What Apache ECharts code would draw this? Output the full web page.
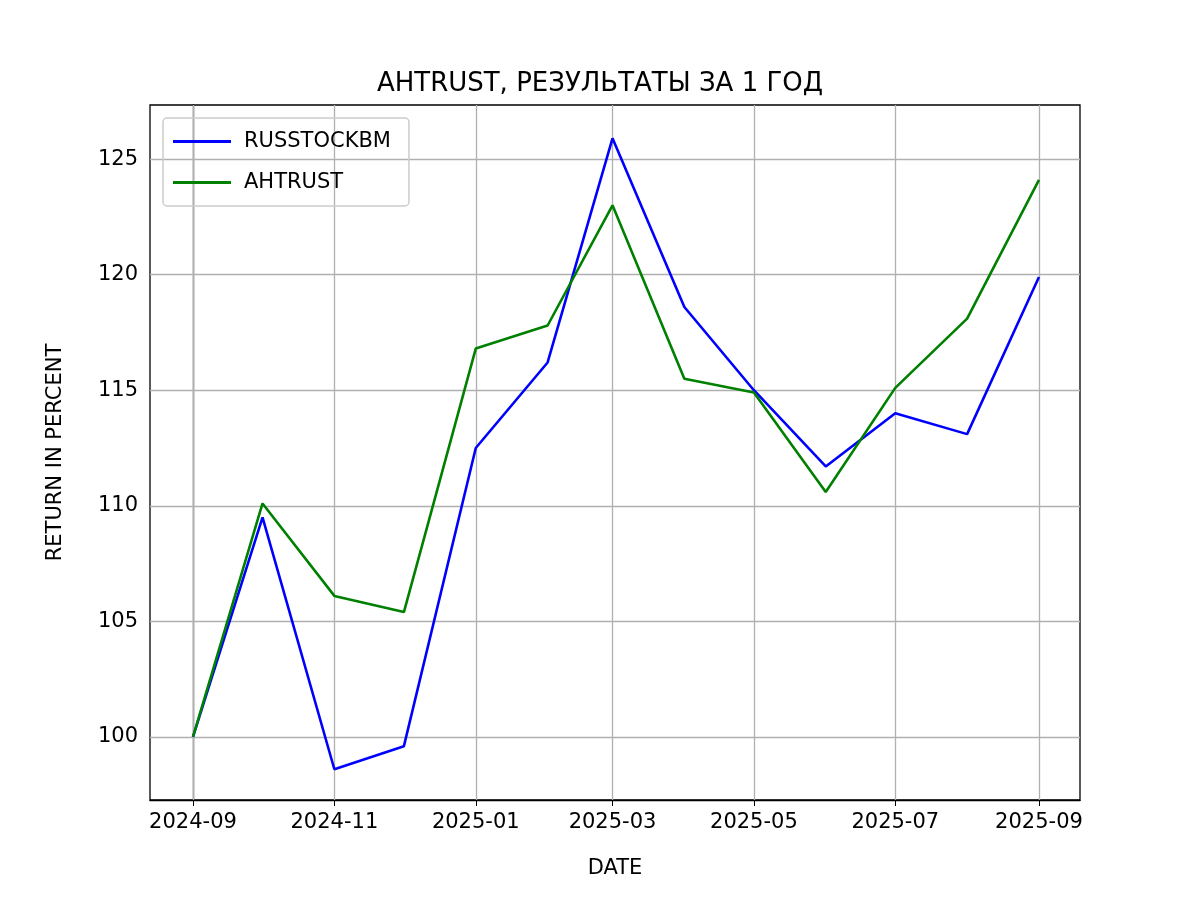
<!DOCTYPE html>
<html>
<head>
<meta charset="utf-8">
<script src="https://cdn.jsdelivr.net/npm/echarts@6/dist/echarts.min.js"></script>
<style>html,body{margin:0;padding:0;background:#fff}#container{width:1200px;height:900px}</style>
</head>
<body>
<div id="container"></div>
<script>
var months = ['2024-09','2024-10','2024-11','2024-12','2025-01','2025-02','2025-03','2025-04','2025-05','2025-06','2025-07','2025-08','2025-09'];
var russtock = [100, 109.5, 98.6, 99.6, 112.5, 116.2, 125.9, 118.6, 115.0, 111.7, 114.0, 113.1, 119.9];
var ahtrust = [100, 110.1, 106.1, 105.4, 116.8, 117.8, 123.0, 115.5, 114.9, 110.6, 115.1, 118.1, 124.1];
var xTickMonths = ['2024-09','2024-11','2025-01','2025-03','2025-05','2025-07','2025-09'];
var yTicks = [100, 105, 110, 115, 120, 125];

var font = 'DejaVu Sans';
var DAY = 86400000;
var t0 = Date.UTC(2024, 8, 1);
function dayOf(m){ var p = m.split('-'); return (Date.UTC(+p[0], +p[1] - 1, 1) - t0) / DAY; }
var xDays = months.map(dayOf);
var xTicks = xTickMonths.map(dayOf);
var labelOf = {};
xTickMonths.forEach(function(m){ labelOf[dayOf(m)] = m; });

var gridLines = [];
xTicks.forEach(function(v){ gridLines.push({xAxis: v}); });
yTicks.forEach(function(v){ gridLines.push({yAxis: v}); });

var myChart = echarts.init(document.getElementById('container'));
var option = {
    animation: false,
    title: {
        text: 'AHTRUST, РЕЗУЛЬТАТЫ ЗА 1 ГОД',
        left: 'center', top: 66,
        textStyle: {fontFamily: font, fontSize: 26, fontWeight: 'normal', color: '#000'}
    },
    legend: {
        left: 163, top: 118, orient: 'vertical',
        itemWidth: 58, itemHeight: 3, itemGap: 20,
        padding: [13, 18, 13, 10],
        borderColor: '#ccc', borderWidth: 1.5, borderRadius: 4,
        textStyle: {fontFamily: font, fontSize: 21, color: '#000', padding: [0, 0, 0, 8]},
        icon: 'rect',
        data: ['RUSSTOCKBM', 'AHTRUST']
    },
    grid: {left: 150, right: 120, top: 105, bottom: 100, show: true, borderColor: '#000', borderWidth: 1.3},
    xAxis: {
        type: 'value', min: -18.55, max: 382.7,
        name: 'DATE', nameLocation: 'middle', nameGap: 58,
        nameTextStyle: {fontFamily: font, fontSize: 21, color: '#000'},
        axisLine: {lineStyle: {color: '#000', width: 1.3}},
        axisTick: {show: true, length: 6, customValues: xTicks, lineStyle: {color: '#000'}},
        axisLabel: {customValues: xTicks, fontFamily: font, fontSize: 21, color: '#000', margin: 12,
            formatter: function(v){ return labelOf[Math.round(v)] || ''; }},
        splitLine: {show: false}
    },
    yAxis: {
        type: 'value', min: 97.27, max: 127.34,
        name: 'RETURN IN PERCENT', nameLocation: 'middle', nameGap: 84,
        nameTextStyle: {fontFamily: font, fontSize: 21, color: '#000'},
        axisLine: {show: true, lineStyle: {color: '#000', width: 1.3}},
        axisTick: {show: true, length: 6, customValues: yTicks, lineStyle: {color: '#000'}},
        axisLabel: {customValues: yTicks, fontFamily: font, fontSize: 21, color: '#000', margin: 12},
        splitLine: {show: false}
    },
    series: [
        {
            name: 'RUSSTOCKBM', type: 'line', showSymbol: false, z: 3,
            color: '#0000ff', lineStyle: {width: 2.6},
            data: russtock.map(function(v, i){ return [xDays[i], v]; }),
            markLine: {silent: true, symbol: 'none', animation: false, label: {show: false},
                lineStyle: {color: '#b0b0b0', type: 'solid', width: 1.3}, data: gridLines, z: 1}
        },
        {
            name: 'AHTRUST', type: 'line', showSymbol: false, z: 4,
            color: '#008000', lineStyle: {width: 2.6},
            data: ahtrust.map(function(v, i){ return [xDays[i], v]; })
        }
    ]
};
myChart.setOption(option);
</script>
</body>
</html>
